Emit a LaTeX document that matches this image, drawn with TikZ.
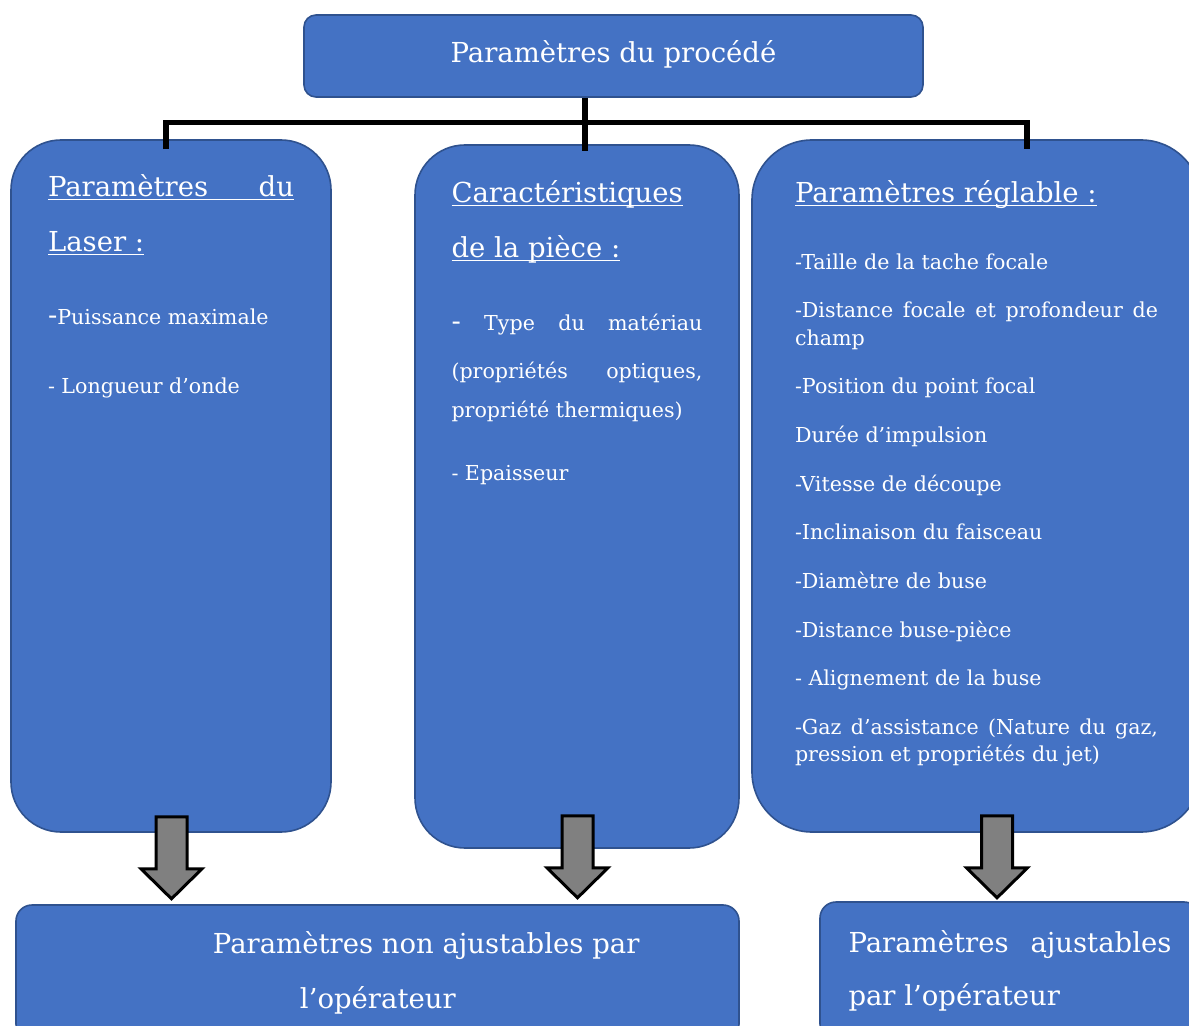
\documentclass[tikz,border=0pt]{standalone}
\usepackage{fontspec}
\setmainfont{DejaVu Serif}
\usepackage{tikz}
\usetikzlibrary{calc, positioning}
\definecolor{boxBlue}{RGB}{68,114,196}
\definecolor{boxEdge}{RGB}{47,82,143}
\definecolor{arrowGray}{RGB}{128,128,128}
% one line of text, #1 = distance from the previous baseline
\newcommand{\headrow}[2]{{\fontsize{13.75}{#1}\selectfont #2\par}}
\newcommand{\itemrow}[2]{{\fontsize{10.3}{#1}\selectfont #2\par}}
\newcommand{\ulin}[1]{\underline{\raisebox{0pt}[\height][0pt]{#1}}}
\newcommand{\bigdash}{{\fontsize{13.75}{14}\selectfont -}}

\begin{document}
\begin{tikzpicture}[x=0.5pt, y=-0.5pt,
            box/.style={draw=boxEdge, fill=boxBlue, line width=0.8pt, text=white, inner sep=0pt},
            link/.style={draw=black, line width=2.6pt},
            bigarrow/.style={draw=black, fill=arrowGray, line width=1.5pt, line join=miter}]
            \useasboundingbox (0,0) rectangle (1189,1026);
            % top box
            \node[box, rounded corners=6pt, minimum width=309.5pt, minimum height=41pt] (proc) at (613.5,56)
              {\fontsize{13.75}{16}\selectfont\raisebox{4.5pt}{Paramètres du procédé}};
            % the three columns
            \node[box, rounded corners=25pt, minimum width=160pt, minimum height=346pt] (laser) at (171,486)
              {\parbox[c][311pt][t]{123pt}{%
                \headrow{20pt}{\ulin{\makebox[\linewidth][s]{Paramètres du}}}
                \headrow{27.5pt}{\ulin{Laser :}}
                \itemrow{36.5pt}{\bigdash Puissance maximale}
                \itemrow{34.5pt}{- Longueur d’onde}}};
            \node[box, rounded corners=25pt, minimum width=162pt, minimum height=351.5pt] (piece) at (577,496.5)
              {\parbox[c][315.5pt][t]{125.5pt}{%
                \headrow{20pt}{\ulin{Caractéristiques}}
                \headrow{27.5pt}{\ulin{de la pièce :}}
                \itemrow{36.5pt}{\makebox[\linewidth][s]{\bigdash{} Type du matériau}}
                \itemrow{24pt}{\makebox[\linewidth][s]{(propriétés optiques,}}
                \itemrow{19.5pt}{propriété thermiques)}
                \itemrow{31.5pt}{- Epaisseur}}};
            \node[box, rounded corners=30pt, minimum width=224.5pt, minimum height=346pt] (reg) at (976.5,486)
              {\parbox[c][305pt][t]{181.5pt}{%
                \headrow{20pt}{\ulin{Paramètres réglable :}}
                \itemrow{33.5pt}{-Taille de la tache focale}
                \itemrow{24pt}{\makebox[\linewidth][s]{-Distance focale et profondeur de}}
                \itemrow{14pt}{champ}
                \itemrow{24pt}{-Position du point focal}
                \itemrow{24.5pt}{Durée d’impulsion}
                \itemrow{24.5pt}{-Vitesse de découpe}
                \itemrow{24pt}{-Inclinaison du faisceau}
                \itemrow{24.5pt}{-Diamètre de buse}
                \itemrow{24.5pt}{-Distance buse-pièce}
                \itemrow{24pt}{- Alignement de la buse}
                \itemrow{24.5pt}{\makebox[\linewidth][s]{-Gaz d’assistance (Nature du gaz,}}
                \itemrow{13.5pt}{pression et propriétés du jet)}}};
            % bottom boxes
            \node[box, rounded corners=8pt, minimum width=361.5pt, minimum height=67.5pt] (fixed) at (377.5,972.5)
              {\parbox{361.5pt}{\fontsize{13.75}{27.5}\selectfont
                \hspace*{98.5pt}Paramètres non ajustables par\\
                \hspace*{142pt}l’opérateur}};
            \node[box, rounded corners=8pt, minimum width=190pt, minimum height=69pt] (adj) at (1010,971)
              {\parbox{161.5pt}{\fontsize{13.75}{26.5}\selectfont
                \makebox[\linewidth][s]{Paramètres ajustables}\\
                par l’opérateur}};
            % tree lines
            \draw[link] ($(proc.south)+(-28.5,0)$) -- ++(0,53);
            \draw[link] ($(laser.north)+(-5,10)$) |- ($(reg.north)+(50.5,-17)$) -- ++(0,27);
            % block arrows
            \draw[bigarrow] ($(laser.south)+(-15,-16)$) -- ++(0,52) -- ++(-15,0) -- ++(30.5,30)
              -- ++(30.5,-30) -- ++(-15,0) -- ++(0,-52) -- cycle;
            \draw[bigarrow] ($(piece.south)+(-15,-33)$) -- ++(0,52) -- ++(-15,0) -- ++(30.5,30)
              -- ++(30.5,-30) -- ++(-15,0) -- ++(0,-52) -- cycle;
            \draw[bigarrow] ($(reg.south)+(5,-17)$) -- ++(0,52) -- ++(-15,0) -- ++(30.5,30)
              -- ++(30.5,-30) -- ++(-15,0) -- ++(0,-52) -- cycle;
\end{tikzpicture}
\end{document}
